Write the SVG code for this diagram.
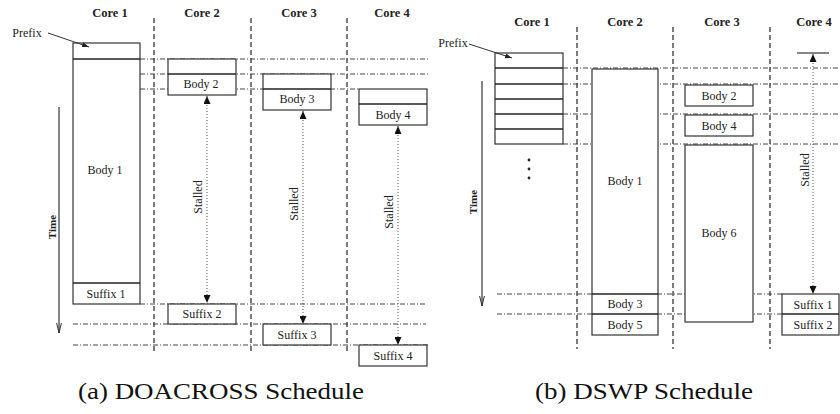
<svg xmlns="http://www.w3.org/2000/svg" width="840" height="414" viewBox="0 0 840 414">
<style>
text{font-family:"Liberation Serif","Times New Roman",serif;fill:#222}
.core{font-size:12.5px;font-weight:bold;text-anchor:middle}
.lbl{font-size:12px;text-anchor:middle}
.time{font-size:11px;font-weight:bold;text-anchor:middle}
.cap{font-size:23px;fill:#111}
.box{fill:#fff;stroke:#333;stroke-width:1.2}
.div{stroke:#222;stroke-width:1.5}
.vd{stroke:#222;stroke-width:1.2;stroke-dasharray:5,3;fill:none}
.hd{stroke:#444;stroke-width:1;stroke-dasharray:5,2,1,2;fill:none}
.st{stroke:#555;stroke-width:1;stroke-dasharray:1,2;fill:none;marker-start:url(#tri);marker-end:url(#tri)}
.tl{stroke:#333;stroke-width:1.2;fill:none;marker-end:url(#vee)}
.pa{stroke:#333;stroke-width:1;fill:none;marker-end:url(#sm)}
</style>
<defs>
<marker id="tri" markerUnits="userSpaceOnUse" viewBox="0 0 8 7" refX="8" refY="3.5" markerWidth="8" markerHeight="7" orient="auto-start-reverse"><path d="M0,0 L8,3.5 L0,7 Z" fill="#111"/></marker>
<marker id="vee" markerUnits="userSpaceOnUse" viewBox="0 0 11 6" refX="10.5" refY="3" markerWidth="11" markerHeight="6" orient="auto"><path d="M0,0.5 L10.5,3 L0,5.5" fill="none" stroke="#333" stroke-width="1"/></marker>
<marker id="sm" markerUnits="userSpaceOnUse" viewBox="0 0 7 5" refX="7" refY="2.5" markerWidth="7" markerHeight="5" orient="auto"><path d="M0,0 L7,2.5 L0,5 Z" fill="#222"/></marker>
</defs>

<!-- ============ (a) DOACROSS ============ -->
<g id="a-headers">
<text class="core" x="110" y="17">Core 1</text>
<text class="core" x="202" y="17">Core 2</text>
<text class="core" x="299" y="17">Core 3</text>
<text class="core" x="392" y="17">Core 4</text>
</g>
<g id="a-guides">
<line class="vd" x1="154" y1="18" x2="154" y2="353"/>
<line class="vd" x1="251" y1="18" x2="251" y2="353"/>
<line class="vd" x1="347" y1="18" x2="347" y2="353"/>
<line class="hd" x1="140" y1="59" x2="428" y2="59"/>
<line class="hd" x1="140" y1="74" x2="428" y2="74"/>
<line class="hd" x1="140" y1="89" x2="359" y2="89"/>
<line class="hd" x1="140" y1="304" x2="426" y2="304"/>
<line class="hd" x1="73" y1="324" x2="426" y2="324"/>
<line class="hd" x1="73" y1="345" x2="428" y2="345"/>
</g>
<g id="a-time">
<line class="tl" x1="59" y1="107" x2="59" y2="333"/>
<text class="time" transform="translate(56,227) rotate(-90)">Time</text>
</g>
<g id="a-prefix">
<text class="lbl" x="27" y="37">Prefix</text>
</g>
<g id="a-core1">
<rect class="box" x="73" y="43" width="67" height="261"/>
<line class="div" x1="73" y1="59" x2="140" y2="59"/>
<line class="div" x1="73" y1="283" x2="140" y2="283"/>
<text class="lbl" x="105" y="174">Body 1</text>
<text class="lbl" x="106" y="298">Suffix 1</text>
</g>
<g id="a-core2">
<rect class="box" x="168" y="59" width="68" height="36"/>
<line class="div" x1="168" y1="74" x2="236" y2="74"/>
<text class="lbl" x="201" y="88">Body 2</text>
<rect class="box" x="168" y="304" width="68" height="20"/>
<text class="lbl" x="202" y="318">Suffix 2</text>
</g>
<g id="a-core3">
<rect class="box" x="263" y="74" width="68" height="36"/>
<line class="div" x1="263" y1="89" x2="331" y2="89"/>
<text class="lbl" x="297" y="103">Body 3</text>
<rect class="box" x="263" y="324" width="68" height="21"/>
<text class="lbl" x="297" y="339">Suffix 3</text>
</g>
<g id="a-core4">
<rect class="box" x="359" y="89" width="68" height="36"/>
<line class="div" x1="359" y1="104" x2="427" y2="104"/>
<text class="lbl" x="393" y="119">Body 4</text>
<rect class="box" x="359" y="345" width="68" height="21"/>
<text class="lbl" x="393" y="360">Suffix 4</text>
</g>
<g id="a-connectors">
<line class="pa" x1="48" y1="33" x2="89" y2="47"/>
<line class="st" x1="207" y1="96" x2="207" y2="303"/>
<line class="st" x1="303" y1="111" x2="303" y2="324"/>
<line class="st" x1="398" y1="126" x2="398" y2="345"/>
<text class="lbl" transform="translate(202,197) rotate(-90)">Stalled</text>
<text class="lbl" transform="translate(298,204) rotate(-90)">Stalled</text>
<text class="lbl" transform="translate(393,212) rotate(-90)">Stalled</text>
</g>

<!-- ============ (b) DSWP ============ -->
<g id="b-headers">
<text class="core" x="532" y="26">Core 1</text>
<text class="core" x="625" y="26">Core 2</text>
<text class="core" x="722" y="26">Core 3</text>
<text class="core" x="814" y="26">Core 4</text>
</g>
<g id="b-guides">
<line class="vd" x1="577" y1="27" x2="577" y2="349"/>
<line class="vd" x1="673" y1="27" x2="673" y2="349"/>
<line class="vd" x1="770" y1="27" x2="770" y2="349"/>
<line class="hd" x1="563" y1="68" x2="840" y2="68"/>
<line class="hd" x1="563" y1="84" x2="840" y2="84"/>
<line class="hd" x1="563" y1="114" x2="840" y2="114"/>
<line class="hd" x1="563" y1="144" x2="840" y2="144"/>
<line class="hd" x1="497" y1="294" x2="782" y2="294"/>
<line class="hd" x1="497" y1="314" x2="782" y2="314"/>
</g>
<g id="b-time">
<line class="tl" x1="482" y1="81" x2="482" y2="306"/>
<text class="time" transform="translate(477,202) rotate(-90)">Time</text>
</g>
<g id="b-prefix">
<text class="lbl" x="453" y="47">Prefix</text>
</g>
<g id="b-core1">
<rect class="box" x="495" y="53" width="68" height="91"/>
<line class="div" x1="495" y1="68" x2="563" y2="68"/>
<line class="div" x1="495" y1="84" x2="563" y2="84"/>
<line class="div" x1="495" y1="99" x2="563" y2="99"/>
<line class="div" x1="495" y1="114" x2="563" y2="114"/>
<line class="div" x1="495" y1="129" x2="563" y2="129"/>
<circle cx="529" cy="160" r="1.4" fill="#222"/>
<circle cx="529" cy="169" r="1.4" fill="#222"/>
<circle cx="529" cy="178" r="1.4" fill="#222"/>
</g>
<g id="b-core2">
<rect class="box" x="592" y="69" width="66" height="266"/>
<line class="div" x1="592" y1="294" x2="658" y2="294"/>
<line class="div" x1="592" y1="314" x2="658" y2="314"/>
<text class="lbl" x="625" y="185">Body 1</text>
<text class="lbl" x="625" y="308">Body 3</text>
<text class="lbl" x="625" y="329">Body 5</text>
</g>
<g id="b-core3">
<rect class="box" x="685" y="85" width="68" height="21"/>
<text class="lbl" x="719" y="100">Body 2</text>
<rect class="box" x="685" y="115" width="68" height="21"/>
<text class="lbl" x="719" y="130">Body 4</text>
<rect class="box" x="685" y="145" width="68" height="177"/>
<text class="lbl" x="719" y="237">Body 6</text>
</g>
<g id="b-core4">
<line stroke="#333" stroke-width="1.2" x1="797" y1="53" x2="829" y2="53"/>
<rect class="box" x="782" y="294" width="57" height="41"/>
<line class="div" x1="782" y1="314" x2="839" y2="314"/>
<text class="lbl" x="813" y="309">Suffix 1</text>
<text class="lbl" x="813" y="329">Suffix 2</text>
</g>
<g id="b-connectors">
<line class="pa" x1="469" y1="44" x2="512" y2="58"/>
<line class="st" x1="813" y1="54" x2="813" y2="294"/>
<text class="lbl" transform="translate(809,170) rotate(-90)">Stalled</text>
</g>

<g id="captions">
<text class="cap" x="78" y="399" textLength="286" lengthAdjust="spacingAndGlyphs">(a) DOACROSS Schedule</text>
<text class="cap" x="535" y="399" textLength="218" lengthAdjust="spacingAndGlyphs">(b) DSWP Schedule</text>
</g>
</svg>
